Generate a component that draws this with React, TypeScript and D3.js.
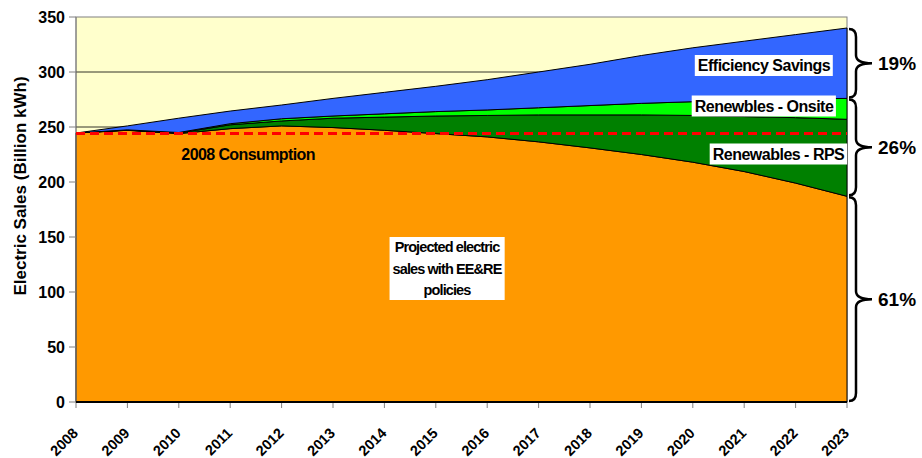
import { useEffect, useRef } from "react"
import * as d3 from "d3"

const years = [2008, 2009, 2010, 2011, 2012, 2013, 2014, 2015, 2016, 2017, 2018, 2019, 2020, 2021, 2022, 2023]
// Billion kWh, each layer stacked on the one before
const projected = [244.5, 247, 244, 248.5, 251, 249.5, 247, 244, 241, 236.5, 231, 225, 218, 209.5, 199, 187]
const rps = [0, 0.2, 0.5, 3.5, 4.5, 8.5, 12, 16, 19.5, 24.5, 30, 36, 42.5, 50, 59.5, 70]
const onsite = [0, 0.2, 0.5, 1, 2, 2, 3, 4, 5, 6.5, 8.5, 10.5, 12.5, 15, 17, 19]
const efficiency = [0, 3.6, 13, 11.5, 12.5, 16, 19.5, 23, 27.5, 32.5, 37.5, 43.5, 49, 53.5, 58.5, 64]
const consumption2008 = 244
const yTicks = [0, 50, 100, 150, 200, 250, 300, 350]
const shares = ["19%", "26%", "61%"]

const keys = ["projected", "rps", "onsite", "efficiency"]
const colors: Record<string, string> = {
  projected: "#FF9900",
  rps: "#008000",
  onsite: "#00FF00",
  efficiency: "#3366FF",
}

const font = "'Liberation Sans', Arial, sans-serif"

export default function App() {
  const svgRef = useRef<SVGSVGElement>(null)

  useEffect(() => {
    if (!svgRef.current) return
    const svg = d3.select(svgRef.current)
    svg.selectAll("*").remove()

    const x = d3.scaleLinear().domain([2008, 2023]).range([76, 847])
    const y = d3.scaleLinear().domain([0, 350]).range([402, 17])

    // * Plot background
    svg
      .append("rect")
      .attr("x", x(2008))
      .attr("y", y(350))
      .attr("width", x(2023) - x(2008))
      .attr("height", y(0) - y(350))
      .attr("fill", "#FFFFCC")
      .attr("stroke", "#808080")
      .attr("stroke-width", 1)

    // * Gridlines
    svg
      .append("g")
      .selectAll("line")
      .data(yTicks.slice(1, -1))
      .join("line")
      .attr("x1", x(2008))
      .attr("x2", x(2023))
      .attr("y1", (d) => y(d))
      .attr("y2", (d) => y(d))
      .attr("stroke", "#000")
      .attr("stroke-width", 0.8)

    // * Stacked areas
    const table = years.map((year, i) => ({
      year,
      projected: projected[i],
      rps: rps[i],
      onsite: onsite[i],
      efficiency: efficiency[i],
    }))
    const series = d3.stack<any>().keys(keys)(table)
    const area = d3
      .area<any>()
      .x((d) => x(d.data.year))
      .y0((d) => y(d[0]))
      .y1((d) => y(d[1]))

    svg
      .append("g")
      .selectAll("path")
      .data(series)
      .join("path")
      .attr("d", (d) => area(d as any))
      .attr("fill", (d) => colors[d.key])
      .attr("stroke", "#000")
      .attr("stroke-width", 1)
      .attr("stroke-linejoin", "round")

    // * Y axis
    const yAxis = svg.append("g")
    yAxis
      .append("line")
      .attr("x1", x(2008))
      .attr("x2", x(2008))
      .attr("y1", y(350))
      .attr("y2", y(0))
      .attr("stroke", "#808080")
    yAxis
      .selectAll("line.tick")
      .data(yTicks)
      .join("line")
      .attr("class", "tick")
      .attr("x1", x(2008) - 7)
      .attr("x2", x(2008))
      .attr("y1", (d) => y(d))
      .attr("y2", (d) => y(d))
      .attr("stroke", "#808080")
    yAxis
      .selectAll("text")
      .data(yTicks)
      .join("text")
      .attr("x", x(2008) - 11)
      .attr("y", (d) => y(d))
      .attr("dy", "0.36em")
      .attr("text-anchor", "end")
      .attr("font-family", font)
      .attr("font-size", "16px")
      .attr("font-weight", "700")
      .text((d) => d)

    svg
      .append("text")
      .attr("transform", "translate(20,186) rotate(-90)")
      .attr("text-anchor", "middle")
      .attr("dy", "0.36em")
      .attr("font-family", font)
      .attr("font-size", "17px")
      .attr("font-weight", "700")
      .text("Electric Sales (Billion kWh)")

    // * X axis
    const xAxis = svg.append("g")
    xAxis
      .selectAll("line.tick")
      .data(years)
      .join("line")
      .attr("class", "tick")
      .attr("x1", (d) => x(d))
      .attr("x2", (d) => x(d))
      .attr("y1", y(0))
      .attr("y2", y(0) + 6)
      .attr("stroke", "#808080")
    xAxis
      .append("line")
      .attr("x1", x(2008))
      .attr("x2", x(2023))
      .attr("y1", y(0))
      .attr("y2", y(0))
      .attr("stroke", "#000")
      .attr("stroke-width", 2)
    xAxis
      .selectAll("text")
      .data(years)
      .join("text")
      .attr("transform", (d) => `translate(${x(d) + 3},434) rotate(-45)`)
      .attr("text-anchor", "end")
      .attr("font-family", font)
      .attr("font-size", "14.5px")
      .attr("font-weight", "700")
      .text((d) => d)

    // * 2008 consumption reference line
    svg
      .append("line")
      .attr("x1", x(2008))
      .attr("x2", x(2023))
      .attr("y1", y(consumption2008))
      .attr("y2", y(consumption2008))
      .attr("stroke", "#FF0000")
      .attr("stroke-width", 3)
      .attr("stroke-dasharray", "9,5")

    svg
      .append("text")
      .attr("x", x(2010.05))
      .attr("y", 160)
      .attr("font-family", font)
      .attr("font-size", "16px")
      .attr("font-weight", "700")
      .attr("letter-spacing", "-0.6px")
      .text("2008 Consumption")

    // * Boxed labels
    const boxed = (lines: string[], cx: number, baseline: number, size: number, spacing: number, step = 0) => {
      const g = svg.append("g")
      const rect = g.append("rect").attr("fill", "#fff")
      const t = g
        .append("text")
        .attr("text-anchor", "middle")
        .attr("font-family", font)
        .attr("font-size", `${size}px`)
        .attr("font-weight", "700")
        .attr("letter-spacing", `${spacing}px`)
      lines.forEach((line, i) => {
        t.append("tspan")
          .attr("x", cx)
          .attr("y", baseline + i * step)
          .text(line)
      })
      const b = (t.node() as SVGTextElement).getBBox()
      rect
        .attr("x", b.x - 3)
        .attr("y", b.y - 2)
        .attr("width", b.width + 5)
        .attr("height", b.height + 4)
    }

    boxed(["Efficiency Savings"], 764, 71, 16, -0.5)
    boxed(["Renewbles - Onsite"], 764, 111.5, 16, -0.5)
    boxed(["Renewables - RPS"], 778.5, 159.5, 16, -0.5)
    boxed(["Projected electric", "sales with EE&RE", "policies"], 447, 252, 14.5, -0.9, 21.5)

    // * Braces with shares
    const last = years.length - 1
    const top = projected[last] + rps[last] + onsite[last] + efficiency[last]
    const renewTop = projected[last] + rps[last] + onsite[last]
    const spans = [
      [top, renewTop],
      [renewTop, projected[last]],
      [projected[last], 0],
    ]
    const x0 = 849
    const s = 856
    const tip = 872
    const r = 8
    spans.forEach(([hi, lo], i) => {
      const y0 = y(hi) + 1
      const y1 = y(lo) - 1
      const ym = (y0 + y1) / 2
      const path = [
        `M${x0},${y0}`,
        `Q${s},${y0} ${s},${y0 + r}`,
        `L${s},${ym - r}`,
        `Q${s},${ym} ${tip},${ym}`,
        `Q${s},${ym} ${s},${ym + r}`,
        `L${s},${y1 - r}`,
        `Q${s},${y1} ${x0},${y1}`,
      ].join(" ")
      svg
        .append("path")
        .attr("d", path)
        .attr("fill", "none")
        .attr("stroke", "#000")
        .attr("stroke-width", 2.5)
      svg
        .append("text")
        .attr("x", 878)
        .attr("y", ym)
        .attr("dy", "0.36em")
        .attr("font-family", font)
        .attr("font-size", "19px")
        .attr("font-weight", "700")
        .text(shares[i])
    })
  }, [])

  return (
    <svg
      ref={svgRef}
      width={922}
      height={458}
      style={{ position: "absolute", left: 0, top: 0, background: "#fff" }}
    />
  )
}
